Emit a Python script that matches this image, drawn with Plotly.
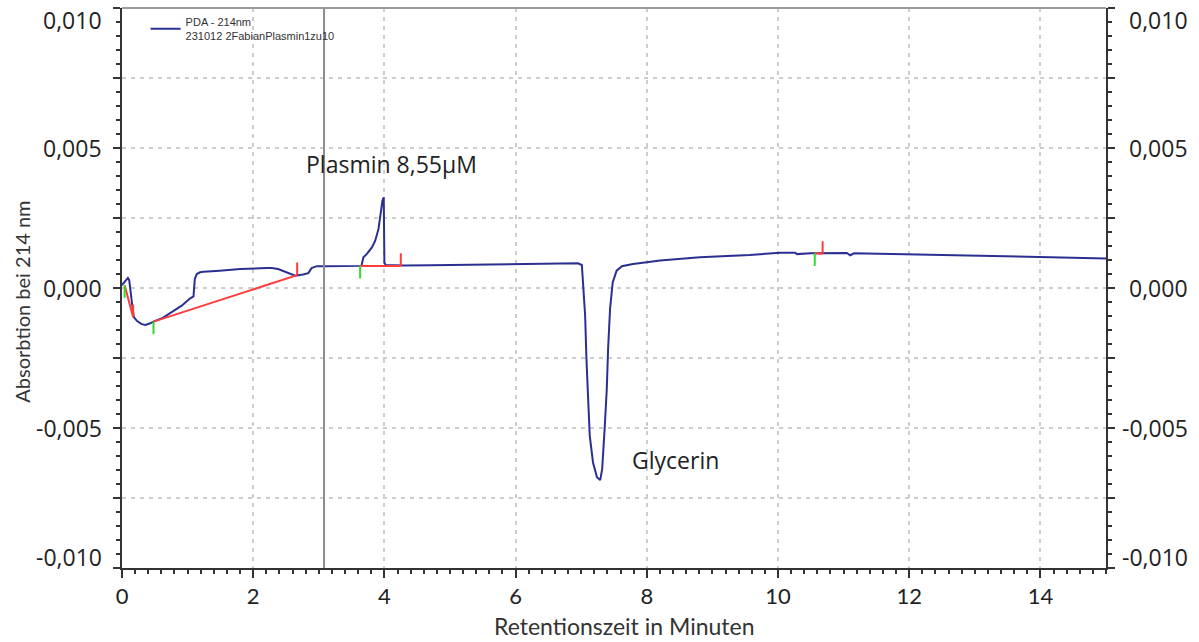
import plotly.graph_objects as go

# PDA trace at 214 nm (retention time in min, absorbance)
time_min = [0.00, 0.04, 0.09, 0.11, 0.13, 0.15, 0.18, 0.23, 0.30, 0.36, 0.43, 0.48,
            0.61, 0.76, 0.91, 1.04, 1.09, 1.11, 1.14, 1.19, 1.24, 1.49, 1.80, 2.21,
            2.28, 2.38, 2.56, 2.64, 2.76, 2.84, 2.89, 2.97, 3.09, 3.40, 3.65, 3.68,
            3.73, 3.81, 3.86, 3.91, 3.94, 3.97, 3.99, 4.00, 4.02, 4.30, 4.70, 5.20,
            5.80, 6.40, 6.95, 7.01, 7.03, 7.06, 7.08, 7.11, 7.13, 7.18, 7.24, 7.29,
            7.32, 7.36, 7.39, 7.41, 7.44, 7.48, 7.54, 7.62, 7.79, 8.00, 8.20, 8.81,
            9.57, 10.03, 10.26, 10.29, 10.50, 11.05, 11.10, 11.16, 11.86, 12.60,
            13.38, 14.15, 15.00]
absorbance = [0.00010, 0.00020, 0.00036, 0.00028, -0.00004, -0.00050, -0.00104,
              -0.00118, -0.00129, -0.00132, -0.00126, -0.00120, -0.00108, -0.00087,
              -0.00063, -0.00037, -0.00030, 0.00032, 0.00050, 0.00056, 0.00058,
              0.00062, 0.00068, 0.00071, 0.00071, 0.00068, 0.00050, 0.00044, 0.00048,
              0.00053, 0.00071, 0.00078, 0.00078, 0.00079, 0.00079, 0.00110, 0.00121,
              0.00145, 0.00169, 0.00211, 0.00264, 0.00312, 0.00324, 0.00090, 0.00082,
              0.00080, 0.00081, 0.00082, 0.00084, 0.00086, 0.00088, 0.00082, 0.00020,
              -0.00099, -0.00254, -0.00396, -0.00527, -0.00623, -0.00676, -0.00686,
              -0.00646, -0.00492, -0.00360, -0.00218, -0.00075, 0.00020, 0.00062,
              0.00078, 0.00086, 0.00092, 0.00098, 0.00110, 0.00118, 0.00126, 0.00126,
              0.00121, 0.00124, 0.00125, 0.00117, 0.00124, 0.00121, 0.00118, 0.00114,
              0.00110, 0.00105]

# Integration events: peak start / end with baseline values
peak_start_t = [0.04, 0.48, 3.63, 10.56]
peak_start_y = [0.00010, -0.00120, 0.00079, 0.00124]
peak_end_t = [0.17, 2.67, 4.25, 10.68]
peak_end_y = [-0.00104, 0.00046, 0.00079, 0.00122]

cursor_time = 3.08

x_tick_vals = [0, 2, 4, 6, 8, 10, 12, 14]
x_tick_text = ["0", "2", "4", "6", "8", "10", "12", "14"]
y_tick_vals = [-0.010, -0.0075, -0.005, -0.0025, 0.0, 0.0025, 0.005, 0.0075, 0.010]
y_label_vals = [-0.010, -0.005, 0.0, 0.005, 0.010]
y_label_text = ["-0,010", "-0,005", "0,000", "0,005", "0,010"]

EVENT_TICK = 0.00045  # drawn length of the event markers

fig = go.Figure()

fig.add_trace(go.Scatter(
    x=time_min, y=absorbance, mode="lines",
    line=dict(color="#2B2F92", width=2),
    name="PDA - 214nm<br>231012 2FabianPlasmin1zu10",
))

# baselines
bx, by = [], []
for t0, y0, t1, y1 in zip(peak_start_t, peak_start_y, peak_end_t, peak_end_y):
    bx += [t0, t1, None]
    by += [y0, y1, None]
fig.add_trace(go.Scatter(x=bx, y=by, mode="lines", line=dict(color="#FF3B3B", width=2),
                         showlegend=False, hoverinfo="skip"))

# peak start markers (green, pointing down)
gx, gy = [], []
for t, y in zip(peak_start_t, peak_start_y):
    gx += [t, t, None]
    gy += [y, y - EVENT_TICK, None]
fig.add_trace(go.Scatter(x=gx, y=gy, mode="lines", line=dict(color="#2EDB2E", width=2),
                         showlegend=False, hoverinfo="skip"))

# peak end markers (red, pointing up)
rx, ry = [], []
for t, y in zip(peak_end_t, peak_end_y):
    rx += [t, t, None]
    ry += [y, y + EVENT_TICK, None]
fig.add_trace(go.Scatter(x=rx, y=ry, mode="lines", line=dict(color="#FF3B3B", width=2),
                         showlegend=False, hoverinfo="skip"))

# right-hand axis (mirrors the left scale)
fig.add_trace(go.Scatter(x=[None], y=[None], yaxis="y2", showlegend=False))

fig.add_shape(type="line", xref="x", yref="paper", x0=cursor_time, x1=cursor_time,
              y0=0, y1=1, line=dict(color="#8C8C8C", width=2), layer="above")
fig.add_shape(type="line", xref="paper", yref="paper", x0=0, x1=1, y0=1, y1=1,
              line=dict(color="#9A9A9A", width=2), layer="above")

label_font = dict(family="Open Sans", size=23, color="#222222")
fig.add_annotation(x=4.11, y=0.00443, xref="x", yref="y", text="Plasmin 8,55µM",
                   showarrow=False, font=label_font)
fig.add_annotation(x=8.43, y=-0.00614, xref="x", yref="y", text="Glycerin",
                   showarrow=False, font=label_font)

# y tick labels on both sides, right-aligned; end labels kept inside the frame
tick_font = dict(family="Open Sans", size=23, color="#222222")
for v, txt in zip(y_label_vals, y_label_text):
    shift = -12 if v == max(y_label_vals) else (11 if v == min(y_label_vals) else 0)
    for xp in (-0.0183, 1.0854):
        fig.add_annotation(x=xp, y=v, xref="paper", yref="y", text=txt,
                           xanchor="right", yanchor="middle", yshift=shift,
                           showarrow=False, font=tick_font)

# axis titles
fig.add_annotation(x=0.51, y=-0.103, xref="paper", yref="paper",
                   xanchor="center", yanchor="middle",
                   text="Retentionszeit in Minuten", showarrow=False,
                   font=dict(family="Lato", size=23, color="#333333"))
fig.add_annotation(x=-0.102, y=0.475, xref="paper", yref="paper",
                   xanchor="center", yanchor="middle",
                   text="Absorbtion bei 214 nm", textangle=-90, showarrow=False,
                   font=dict(family="Lato", size=20, color="#333333"))

grid = dict(showgrid=True, gridcolor="#CDCDCD", griddash="4px,5px", gridwidth=1.5)

fig.update_layout(
    width=1199, height=642,
    margin=dict(l=122, r=93, t=8, b=74, autoexpand=False),
    plot_bgcolor="white", paper_bgcolor="white",
    showlegend=True,
    legend=dict(x=0.024, y=1.0, xanchor="left", yanchor="top",
                bgcolor="rgba(0,0,0,0)", font=dict(family="Liberation Sans", size=11,
                                                   color="#333333"),
                itemwidth=30, valign="middle"),
    xaxis=dict(range=[0, 15], tickvals=x_tick_vals, ticktext=x_tick_text,
               showline=True, linecolor="#333333", linewidth=1.5,
               ticks="outside", ticklen=8, tickcolor="#333333", tickwidth=1.5,
               minor=dict(dtick=0.2, ticks="outside", ticklen=4, tickcolor="#333333",
                          showgrid=False),
               zeroline=False,
               tickfont=dict(family="Lato", size=22, color="#222222"), **grid),
    yaxis=dict(range=[-0.010, 0.010], tickvals=y_tick_vals, showticklabels=False,
               showline=True, linecolor="#333333", linewidth=1.5,
               ticks="outside", ticklen=7, tickcolor="#333333", tickwidth=1.5,
               minor=dict(dtick=0.0005, ticks="outside", ticklen=4, tickcolor="#333333",
                          showgrid=False),
               zeroline=False, **grid),
    yaxis2=dict(range=[-0.010, 0.010], overlaying="y", side="right",
                tickvals=y_tick_vals, showticklabels=False,
                showline=True, linecolor="#333333", linewidth=1.5,
                ticks="outside", ticklen=7, tickcolor="#333333", tickwidth=1.5,
                minor=dict(dtick=0.0005, ticks="outside", ticklen=4, tickcolor="#333333",
                           showgrid=False),
                showgrid=False, zeroline=False),
)

fig.write_html("out.html")
